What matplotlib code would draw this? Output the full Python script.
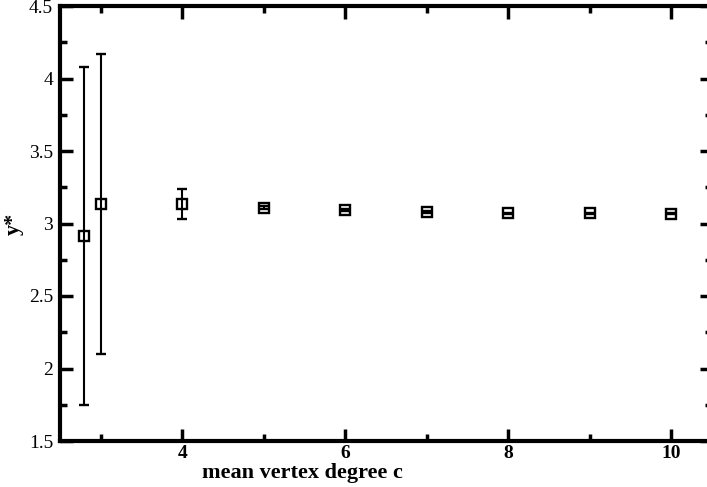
import matplotlib
matplotlib.use('Agg')
import matplotlib.pyplot as plt
from matplotlib.ticker import MultipleLocator

# mean vertex degree c, y* and error
c = [2.8, 3.0, 4, 5, 6, 7, 8, 9, 10]
y_star = [2.914, 3.134, 3.134, 3.11, 3.095, 3.08, 3.07, 3.07, 3.068]
err_lo = [1.166, 1.036, 0.105, 0.012, 0.008, 0.006, 0.005, 0.004, 0.004]
err_hi = [1.163, 1.035, 0.102, 0.012, 0.008, 0.006, 0.005, 0.004, 0.004]

plt.rcParams['font.family'] = ['Liberation Serif', 'DejaVu Serif']

fig = plt.figure(figsize=(7.07, 4.87), dpi=100)
W, H = 707, 487
ax = fig.add_axes([60 / W, (H - 441) / H, 652 / W, 435 / H])

ax.errorbar(c, y_star, yerr=[err_lo, err_hi], fmt='s', color='black',
            mfc='none', mec='black', ms=7.5, mew=1.7,
            ecolor='black', elinewidth=1.5, capsize=3.5, capthick=1.5)

ax.set_xlim(2.5, 10.5)
ax.set_ylim(1.5, 4.5)
ax.xaxis.set_minor_locator(MultipleLocator(1))
ax.yaxis.set_minor_locator(MultipleLocator(0.25))
ax.set_xticks([4, 6, 8, 10])
ax.set_xticklabels(['4', '6', '8', '10'], fontweight='bold', fontsize=14)
ax.set_yticks([1.5, 2, 2.5, 3, 3.5, 4, 4.5])
ax.set_yticklabels(['1.5', '2', '2.5', '3', '3.5', '4', '4.5'], fontsize=14)

ax.tick_params(which='both', direction='in', top=True, right=True, width=2.5)
ax.tick_params(which='major', length=9)
ax.tick_params(axis='y', which='major', pad=5)
ax.tick_params(axis='x', which='major', pad=3)
ax.tick_params(which='minor', length=5)
for s in ax.spines.values():
    s.set_linewidth(3)

ax.set_xlabel('mean vertex degree c', fontweight='bold', fontsize=16)
ax.xaxis.set_label_coords((302 - 60) / 652, -0.05)
ax.set_ylabel('y*', fontweight='bold', fontsize=16)
ax.yaxis.set_label_coords(-0.055, 0.5)

fig.savefig('out.png', dpi=100)
